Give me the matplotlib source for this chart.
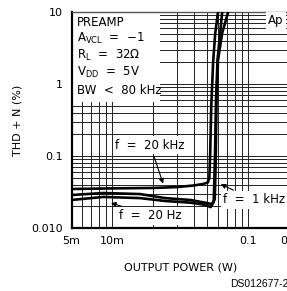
import matplotlib
matplotlib.use('Agg')
import matplotlib.pyplot as plt
from matplotlib.patches import Rectangle
from matplotlib.ticker import FixedLocator, NullFormatter

plt.rcParams['font.family'] = ['Liberation Sans Narrow', 'DejaVu Sans']
plt.rcParams['mathtext.default'] = 'regular'

# output power (W) / THD+N (%)
p_20k = [0.005, 0.01, 0.02, 0.03, 0.04, 0.047, 0.0505, 0.0518, 0.0525, 0.0535, 0.0553, 0.0572, 0.060, 0.063]
thd_20k = [0.0348, 0.0355, 0.036, 0.037, 0.039, 0.041, 0.043, 0.05, 0.1, 0.5, 2.1, 5.0, 10.0, 14.0]

p_1k = [0.005, 0.0086, 0.016, 0.0246, 0.0375, 0.048, 0.054, 0.0568, 0.0578, 0.0585, 0.060, 0.0644, 0.0713, 0.076]
thd_1k = [0.0287, 0.0306, 0.0296, 0.026, 0.0245, 0.0225, 0.0215, 0.025, 0.1, 0.6, 2.15, 5.1, 10.0, 14.0]

p_20 = [0.005, 0.0086, 0.016, 0.0246, 0.0375, 0.048, 0.053, 0.0558, 0.057, 0.058, 0.0595, 0.0644, 0.068]
thd_20 = [0.0245, 0.027, 0.026, 0.0237, 0.0225, 0.021, 0.0195, 0.023, 0.1, 0.6, 2.15, 10.0, 14.0]

xticks = [0.005, 0.01, 0.1, 0.2]
xticklabels = ['5m', '10m', '0.1', '0.2']
yticks = [0.01, 0.1, 1, 10]
yticklabels = ['0.010', '0.1', '1', '10']

cond_lines = ['PREAMP', 'A$_{VCL}$  =  \u22121', 'R$_L$  =  32\u2126', 'V$_{DD}$  =  5V', 'BW  <  80 kHz']

fig = plt.figure(figsize=(2.87, 2.91), dpi=100)
ax = fig.add_axes([71.5 / 287, 63 / 291, 217.5 / 287, 216 / 291])
ax.set_xscale('log')
ax.set_yscale('log')
ax.set_xlim(0.005, 0.2)
ax.set_ylim(0.01, 10)

# grid: every decade step
xgrid = [k * 1e-3 for k in range(5, 10)] + [k * 1e-2 for k in range(1, 10)] + [0.1, 0.2]
ygrid = [k * 10.0 ** e for e in (-2, -1, 0) for k in range(1, 10)]
for gx in xgrid:
    ax.axvline(gx, color='#222222', lw=0.7, zorder=1)
for gy in ygrid:
    ax.axhline(gy, color='#222222', lw=0.7, zorder=1)

ax.xaxis.set_major_locator(FixedLocator(xticks))
ax.set_xticklabels(xticklabels)
ax.xaxis.set_minor_formatter(NullFormatter())
ax.yaxis.set_major_locator(FixedLocator(yticks))
ax.set_yticklabels(yticklabels)
ax.yaxis.set_minor_formatter(NullFormatter())
ax.tick_params(which='both', length=0, labelsize=8, pad=6)

for s in ['left', 'bottom']:
    ax.spines[s].set_linewidth(1.6)
ax.spines['top'].set_linewidth(1.0)
ax.spines['top'].set_color('#555555')

# white box behind conditions
ax.add_patch(Rectangle((0, 0.583), 0.407, 0.417, transform=ax.transAxes,
                       facecolor='white', edgecolor='none', zorder=2))
ys = [22, 38, 55, 72, 90]
for txt, yc in zip(cond_lines, ys):
    ax.text(0.025, 1 - (yc - 12) / 216, txt, transform=ax.transAxes,
            fontsize=8.5, va='center', ha='left', zorder=3)

ax.plot(p_20k, thd_20k, color='black', lw=1.9, zorder=4)
ax.plot(p_1k, thd_1k, color='black', lw=1.9, zorder=4)
ax.plot(p_20, thd_20, color='black', lw=1.9, zorder=4)

box = dict(facecolor='white', edgecolor='none', pad=1.5)
arrow = dict(arrowstyle='-|>', color='black', lw=0.8, mutation_scale=7)
ax.annotate('f  =  20 kHz', xy=(0.024, 0.038), xytext=(0.019, 0.142),
            fontsize=8.5, ha='center', va='center', bbox=box,
            arrowprops=arrow, zorder=5)
ax.annotate('f  =  1 kHz', xy=(0.0602, 0.0422), xytext=(0.1107, 0.0245),
            fontsize=8.5, ha='center', va='center', bbox=box,
            arrowprops=arrow, zorder=5)
ax.annotate('f  =  20 Hz', xy=(0.00935, 0.023), xytext=(0.019, 0.0147),
            fontsize=8.5, ha='center', va='center', bbox=box,
            arrowprops=arrow, zorder=5)
ax.text(0.14, 7.7, 'Ap', fontsize=8.5, ha='left', va='center',
        bbox=dict(facecolor='white', edgecolor='none', pad=1.5), zorder=5)

ax.set_ylabel('THD + N (%)', fontsize=8)
ax.yaxis.set_label_coords(-0.225, 0.5)
ax.set_xlabel('OUTPUT POWER (W)', fontsize=8, labelpad=12)

fig.text(230 / 287, 1 - 284 / 291, 'DS012677-2', fontsize=7.5,
         family=['Liberation Sans', 'DejaVu Sans'], ha='left', va='center')

fig.savefig('out.png', dpi=100)
